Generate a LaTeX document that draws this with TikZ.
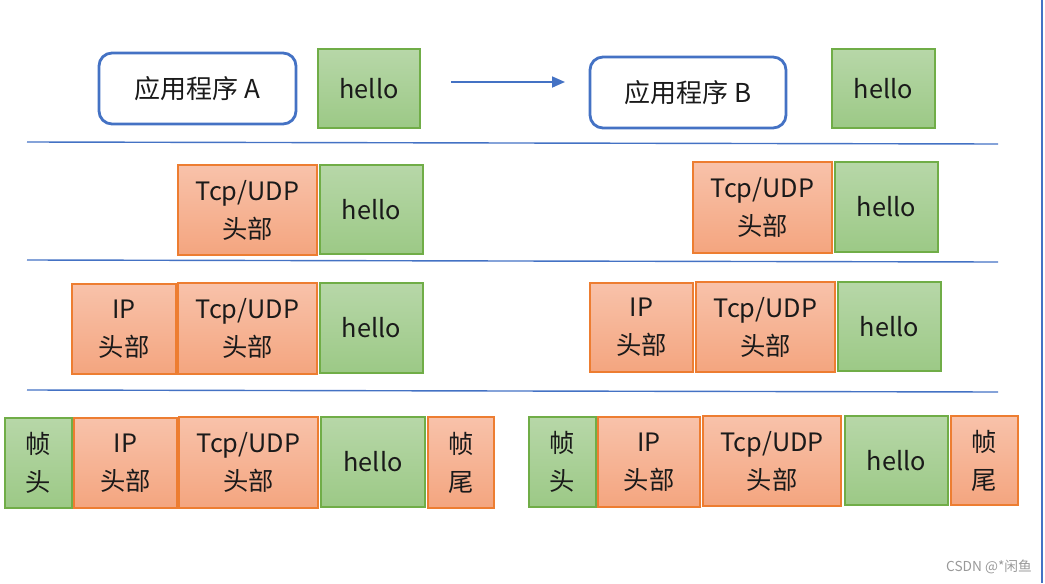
\documentclass[tikz,border=0pt]{standalone}
\usepackage{fontspec}
\setmainfont{Noto Sans CJK SC}
\usetikzlibrary{arrows.meta}
\definecolor{lanB}{HTML}{4472C4}
\definecolor{zelB}{HTML}{70AD47}
\definecolor{zelT}{HTML}{B7D7A8}
\definecolor{zelD}{HTML}{9CC986}
\definecolor{oraB}{HTML}{ED7D31}
\definecolor{oraT}{HTML}{F8C2AA}
\definecolor{oraD}{HTML}{F4A57F}
\definecolor{besedilo}{HTML}{1A1A1A}
\tikzset{
 okvir/.style={inner sep=0pt, align=center, text=besedilo, font=\fontsize{7.2}{10.8}\selectfont},
 zel/.style={okvir, draw=zelB, line width=0.5pt, top color=zelT, bottom color=zelD},
 ora/.style={okvir, draw=oraB, line width=0.5pt, top color=oraT, bottom color=oraD},
 app/.style={okvir, draw=lanB, line width=0.8pt, rounded corners=0.13cm, fill=white, font=\fontsize{7.4}{9}\selectfont},
 crta/.style={lanB, line width=0.4pt},
}
\newcommand{\blk}[7]{% ime, slog, x1, y1, x2, y2, besedilo (v px)
 \pgfmathsetmacro{\Wb}{(#5-#3)/100}
 \pgfmathsetmacro{\Hb}{(#6-#4)/100}
 \node[#2, minimum width=\Wb cm, minimum height=\Hb cm] (#1) at ({(#3+#5)/200},{-(#4+#6)/200}) {#7};
}

\begin{document}
\begin{tikzpicture}
\useasboundingbox (0,0) rectangle (10.45,-5.83);

% vrstica 1 - aplikacija
\blk{appA}{app}{99}{53}{296}{124}{应用程序 A}
\blk{helloA1}{zel}{318}{49}{420}{128}{hello}
\blk{appB}{app}{590}{57}{786}{128}{应用程序 B}
\blk{helloB1}{zel}{832}{49}{935}{128}{hello}
\coordinate (pz) at (4.51,-0.82);
\coordinate (pk) at (5.65,-0.82);
\draw[lanB, line width=0.5pt, -{Triangle[length=0.13cm, width=0.11cm]}] (pz) -- (pk);

\draw[crta] (0.27,-1.42) -- (9.98,-1.44);

% vrstica 2 - transport
\blk{tcpA2}{ora}{178}{165}{317}{255}{Tcp/UDP\\头部}
\blk{helloA2}{zel}{320}{165}{423}{254}{hello}
\blk{tcpB2}{ora}{693}{162}{832}{253}{Tcp/UDP\\头部}
\blk{helloB2}{zel}{835}{162}{938}{252}{hello}

\draw[crta] (0.27,-2.60) -- (9.98,-2.62);

% vrstica 3 - IP
\blk{ipA3}{ora}{72}{284}{176}{374}{IP\\头部}
\blk{tcpA3}{ora}{178}{283}{317}{374}{Tcp/UDP\\头部}
\blk{helloA3}{zel}{320}{283}{423}{373}{hello}
\blk{ipB3}{ora}{590}{283}{693}{372}{IP\\头部}
\blk{tcpB3}{ora}{696}{282}{835}{372}{Tcp/UDP\\头部}
\blk{helloB3}{zel}{838}{282}{941}{371}{hello}

\draw[crta] (0.27,-3.90) -- (9.98,-3.92);

% vrstica 4 - okvir
\blk{fhA4}{zel}{5}{418}{72}{508}{帧\\头}
\blk{ipA4}{ora}{74}{418}{177}{508}{IP\\头部}
\blk{tcpA4}{ora}{179}{417}{318}{508}{Tcp/UDP\\头部}
\blk{helloA4}{zel}{321}{417}{425}{507}{hello}
\blk{ftA4}{ora}{428}{417}{494}{508}{帧\\尾}
\blk{fhB4}{zel}{529}{417}{596}{507}{帧\\头}
\blk{ipB4}{ora}{598}{417}{700}{507}{IP\\头部}
\blk{tcpB4}{ora}{703}{416}{841}{506}{Tcp/UDP\\头部}
\blk{helloB4}{zel}{845}{416}{948}{505}{hello}
\blk{ftB4}{ora}{951}{416}{1018}{505}{帧\\尾}

\draw[lanB, line width=0.5pt] (10.42,0) -- (10.42,-5.83);
\node[text=gray!80, font=\fontsize{3.9}{5}\selectfont, inner sep=0pt] (znak) at (9.89,-5.67) {CSDN @*闲鱼};
\end{tikzpicture}
\end{document}
